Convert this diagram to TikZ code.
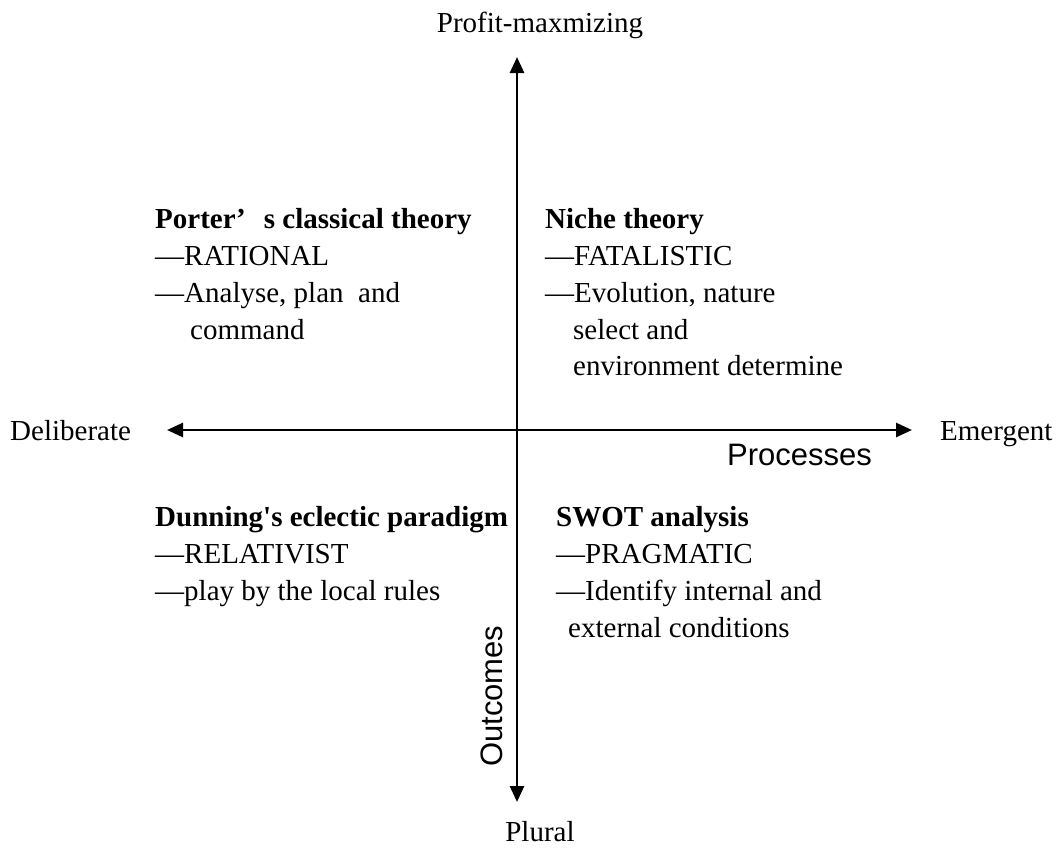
\documentclass[tikz,border=0pt]{standalone}
\usepackage{fontspec}
\setmainfont{Liberation Serif}[Ligatures=TeXOff]
\setsansfont{Liberation Sans}
\usetikzlibrary{arrows.meta,positioning}

\tikzset{
  axis/.style={line width=2.7pt, {Triangle[length=16pt,width=14pt]}-{Triangle[length=16pt,width=14pt]}},
  pole/.style={font=\fontsize{29}{34}\selectfont, anchor=base, inner sep=0pt},
  theory/.style={font=\bfseries\fontsize{29}{34}\selectfont, anchor=base west, inner sep=0pt},
  remark/.style={font=\fontsize{29}{34}\selectfont, anchor=base west, inner sep=0pt},
  dim/.style={font=\sffamily\fontsize{31}{36}\selectfont, anchor=base west, inner sep=0pt}
}

\begin{document}
\begin{tikzpicture}[x=1pt,y=-1pt]
\useasboundingbox (0,0) rectangle (1059,849);

% axis ends
\coordinate (up) at (517,57);
\coordinate (down) at (517,802);
\coordinate (left) at (167,430);
\coordinate (right) at (912,430);

\draw[axis] (down) -- (up);
\draw[axis] (left) -- (right);

% poles
\node[pole] (profit) at (540,32) {Profit-maxmizing};
\node[pole] (plural) at (540,841) {Plural};
\node[pole, anchor=base west] (deliberate) at (10,440) {Deliberate};
\node[pole, anchor=base west] (emergent) at (940,440) {Emergent};

% dimensions
\node[dim] (processes) at (727,465) {Processes};
\node[dim, rotate=90] (outcomes) at (502,767) {Outcomes};

% top left
\node[theory] (porter) at (155,228) {Porter’\hspace{18pt}s classical theory};
\node[remark] (rational) at (155,265) {—RATIONAL};
\node[remark] (analyse) at (155,302) {—Analyse, plan\ \ and};
\node[remark] (command) at (190,339) {command};

% top right
\node[theory] (niche) at (545,228) {Niche theory};
\node[remark] (fatalistic) at (545,265) {—FATALISTIC};
\node[remark] (evolution) at (545,302) {—Evolution, nature};
\node[remark] (select) at (573,339) {select and};
\node[remark] (environment) at (573,375) {environment determine};

% bottom left
\node[theory] (dunning) at (155,526) {Dunning's eclectic paradigm};
\node[remark] (relativist) at (155,563) {—RELATIVIST};
\node[remark] (rules) at (155,600) {—play by the local rules};

% bottom right
\node[theory] (swot) at (556,526) {SWOT analysis};
\node[remark] (pragmatic) at (556,563) {—PRAGMATIC};
\node[remark] (identify) at (556,600) {—Identify internal and};
\node[remark] (external) at (568,637) {external conditions};
\end{tikzpicture}
\end{document}
